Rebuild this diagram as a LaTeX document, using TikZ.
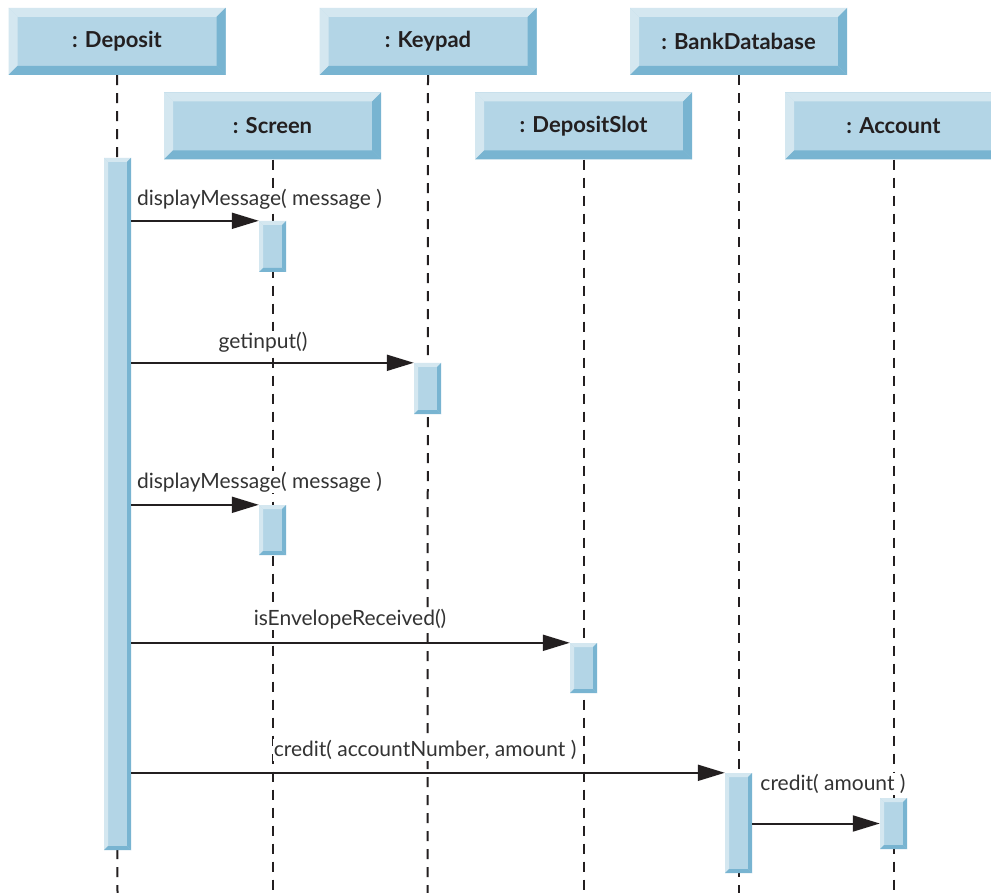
\documentclass[tikz,border=0pt]{standalone}
\usepackage{fontspec}
\setmainfont{Lato}
\usetikzlibrary{arrows.meta,calc}
\definecolor{face}{HTML}{B3D5E6}
\definecolor{lite}{HTML}{D4E7F0}
\definecolor{dark}{HTML}{78B4D1}
\definecolor{ink}{HTML}{231F20}
\definecolor{lbl}{HTML}{333333}
\tikzset{
  bevel/.style={path picture={
    \coordinate (nw) at (path picture bounding box.north west);
    \coordinate (ne) at (path picture bounding box.north east);
    \coordinate (sw) at (path picture bounding box.south west);
    \coordinate (se) at (path picture bounding box.south east);
    \fill[lite] (nw) -- (ne) -- ([xshift=-#1,yshift=-#1]ne) -- ([xshift=#1,yshift=-#1]nw) -- cycle;
    \fill[lite] (nw) -- ([xshift=#1,yshift=-#1]nw) -- ([xshift=#1,yshift=#1]sw) -- (sw) -- cycle;
    \fill[dark] (ne) -- (se) -- ([xshift=-#1,yshift=#1]se) -- ([xshift=-#1,yshift=-#1]ne) -- cycle;
    \fill[dark] (sw) -- (se) -- ([xshift=-#1,yshift=#1]se) -- ([xshift=#1,yshift=#1]sw) -- cycle;
  }},
  objbox/.style={rectangle, fill=face, minimum width=217pt, minimum height=67pt, inner sep=0pt,
    font=\bfseries\fontsize{22}{26}\selectfont, text=ink, bevel=9pt},
  actbar/.style={rectangle, fill=face, minimum width=27pt, inner sep=0pt, bevel=4pt},
  lifeline/.style={draw=ink, line width=2pt, dash pattern=on 10pt off 8pt},
  msg/.style={draw=ink, line width=2pt, -{Triangle[length=27pt,width=16pt]}},
  lab/.style={fill=white, inner sep=1pt, text=lbl, font=\fontsize{21}{25}\selectfont},
}
\begin{document}
\begin{tikzpicture}[x=1pt,y=-1pt]
\clip (0,0) rectangle (991,893);
\fill[white] (0,0) rectangle (991,893);
% object boxes
\node[objbox] (dep) at (117,41.5) {: Deposit};
\node[objbox] (key) at (428,41.5) {: Keypad};
\node[objbox] (bdb) at (738.5,41.5) {: BankDatabase};
\node[objbox] (scr) at (272.5,126) {: Screen};
\node[objbox] (dsl) at (583.5,126) {: DepositSlot};
\node[objbox] (acc) at (893.5,126) {: Account};
% lifeline ends
\coordinate (eDep) at (117.5,893);
\coordinate (eKey) at (427.5,893);
\coordinate (eBdb) at (738.5,893);
\coordinate (eScr) at (272.5,893);
\coordinate (eDsl) at (583.5,893);
\coordinate (eAcc) at (893.5,893);
\draw[lifeline] (dep.south) -- (eDep);
\draw[lifeline] (key.south) -- (eKey);
\draw[lifeline] (bdb.south) -- (eBdb);
\draw[lifeline] (scr.south) -- (eScr);
\draw[lifeline] (dsl.south) -- (eDsl);
\draw[lifeline] (acc.south) -- (eAcc);
% labels
\node[lab] (l1) at (259.5,199) {displayMessage( message )};
\node[lab] (l2) at (263,342) {getinput()};
\node[lab] (l3) at (259.5,482) {displayMessage( message )};
\node[lab] (l4) at (350,619) {isEnvelopeReceived()};
\node[lab] (l5) at (425,750) {credit( accountNumber, amount )};
\node[lab] (l6) at (833,784) {credit( amount )};
% activation bars
\node[actbar, minimum height=692pt] (dbar) at (117.5,504) {};
\node[actbar, minimum height=51pt] (sb1) at (272.5,246.5) {};
\node[actbar, minimum height=51pt] (kb) at (427.5,388.5) {};
\node[actbar, minimum height=50pt] (sb2) at (272.5,530) {};
\node[actbar, minimum height=50pt] (dsb) at (583.5,668) {};
\node[actbar, minimum height=100pt] (bb) at (738.5,823) {};
\node[actbar, minimum height=51pt] (ab) at (893.5,823.5) {};
% messages
\draw[msg] (dbar.east |- sb1.north) -- (sb1.north west);
\draw[msg] (dbar.east |- kb.north) -- (kb.north west);
\draw[msg] (dbar.east |- sb2.north) -- (sb2.north west);
\draw[msg] (dbar.east |- dsb.north) -- (dsb.north west);
\draw[msg] (dbar.east |- bb.north) -- (bb.north west);
\draw[msg] (bb.east |- ab.west) -- (ab.west);
\end{tikzpicture}
\end{document}
